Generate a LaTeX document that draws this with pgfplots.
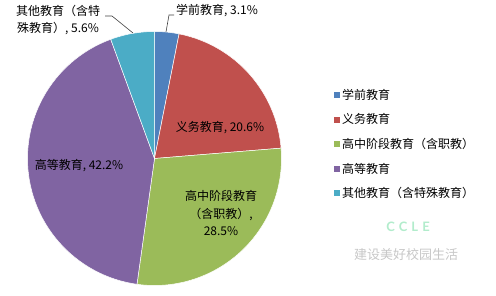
\documentclass[border=0pt]{standalone}
\usepackage{pgfplots}
\usepackage{pgfplotstable}
\pgfplotsset{compat=1.18}
\usepackage{fontspec}
\setmainfont{Noto Sans CJK SC}
\newfontfamily\wmfont{Lato}
\definecolor{cA}{RGB}{79,129,189}
\definecolor{cB}{RGB}{192,80,77}
\definecolor{cC}{RGB}{155,187,89}
\definecolor{cD}{RGB}{128,100,162}
\definecolor{cE}{RGB}{75,172,198}
\definecolor{wmgreen}{RGB}{178,236,204}
\pgfplotstableread{
id value
1 3.1
2 20.6
3 28.5
4 42.2
5 5.6
}\piedata
\pgfplotstablegetelem{0}{value}\of\piedata \let\vA\pgfplotsretval
\pgfplotstablegetelem{1}{value}\of\piedata \let\vB\pgfplotsretval
\pgfplotstablegetelem{2}{value}\of\piedata \let\vC\pgfplotsretval
\pgfplotstablegetelem{3}{value}\of\piedata \let\vD\pgfplotsretval
\pgfplotstablegetelem{4}{value}\of\piedata \let\vE\pgfplotsretval
\pgfmathsetmacro\aA{90}
\pgfmathsetmacro\aB{\aA-3.6*\vA}
\pgfmathsetmacro\aC{\aB-3.6*\vB}
\pgfmathsetmacro\aD{\aC-3.6*\vC}
\pgfmathsetmacro\aE{\aD-3.6*\vD}
\pgfmathsetmacro\aF{\aE-3.6*\vE}
\begin{document}
\begin{tikzpicture}
\useasboundingbox (0,0) rectangle (496bp,296bp);
\begin{axis}[
  at={(0,0)}, anchor=south west,
  x=1bp, y=1bp, xmin=0, xmax=496, ymin=0, ymax=296,
  scale only axis, hide axis, clip=false,
  legend cell align=left,
  legend image code/.code={\fill[#1,draw=none] (0bp,-3bp) rectangle (6bp,3bp);},
  legend style={draw=none, fill=none, at={(axis cs:331,211)}, anchor=north west,
    font=\fontsize{12bp}{13bp}\selectfont, row sep=8.9bp,
    /tikz/every even column/.append style={column sep=0bp}},
  every axis plot/.append style={draw=white, line width=0.5bp, samples=60},
]
\addplot[fill=cA, domain=\aB:\aA] ({154.5+127*cos(x)},{137.5+127*sin(x)}) -- (axis cs:154.5,137.5) -- cycle;
\addlegendentry{学前教育}
\addplot[fill=cB, domain=\aC:\aB] ({154.5+127*cos(x)},{137.5+127*sin(x)}) -- (axis cs:154.5,137.5) -- cycle;
\addlegendentry{义务教育}
\addplot[fill=cC, domain=\aD:\aC] ({154.5+127*cos(x)},{137.5+127*sin(x)}) -- (axis cs:154.5,137.5) -- cycle;
\addlegendentry{高中阶段教育（含职教）}
\addplot[fill=cD, domain=\aE:\aD] ({154.5+127*cos(x)},{137.5+127*sin(x)}) -- (axis cs:154.5,137.5) -- cycle;
\addlegendentry{高等教育}
\addplot[fill=cE, domain=\aF:\aE] ({154.5+127*cos(x)},{137.5+127*sin(x)}) -- (axis cs:154.5,137.5) -- cycle;
\addlegendentry{其他教育（含特殊教育）}
% data labels
\begin{scope}[font=\fontsize{12bp}{17.5bp}\selectfont]
\node at (axis cs:220,168) {义务教育, 20.6\%};
\node[align=center] at (axis cs:221,83) {高中阶段教育\\（含职教）,\\28.5\%};
\node at (axis cs:79,130) {高等教育, 42.2\%};
\node[anchor=west, inner sep=0pt] at (axis cs:176,285) {学前教育, 3.1\%};
\node[align=center, inner sep=0pt] at (axis cs:58,276) {其他教育（含特\\殊教育）, 5.6\%};
\end{scope}
\draw[black!75, line width=0.6bp] (axis cs:166,264) -- (axis cs:169,281) -- (axis cs:174,281);
\draw[black!75, line width=0.6bp] (axis cs:105,280) -- (axis cs:112,280) -- (axis cs:133,263);
% watermark
\node[text=wmgreen, font=\wmfont\fontsize{13bp}{13bp}\selectfont\bfseries] at (axis cs:408,69) {C\hspace{4bp}C\hspace{4bp}L\hspace{4bp}E};
\node[text=black!22, font=\fontsize{13bp}{13bp}\selectfont] at (axis cs:406,41) {建设美好校园生活};
\end{axis}
\end{tikzpicture}
\end{document}
